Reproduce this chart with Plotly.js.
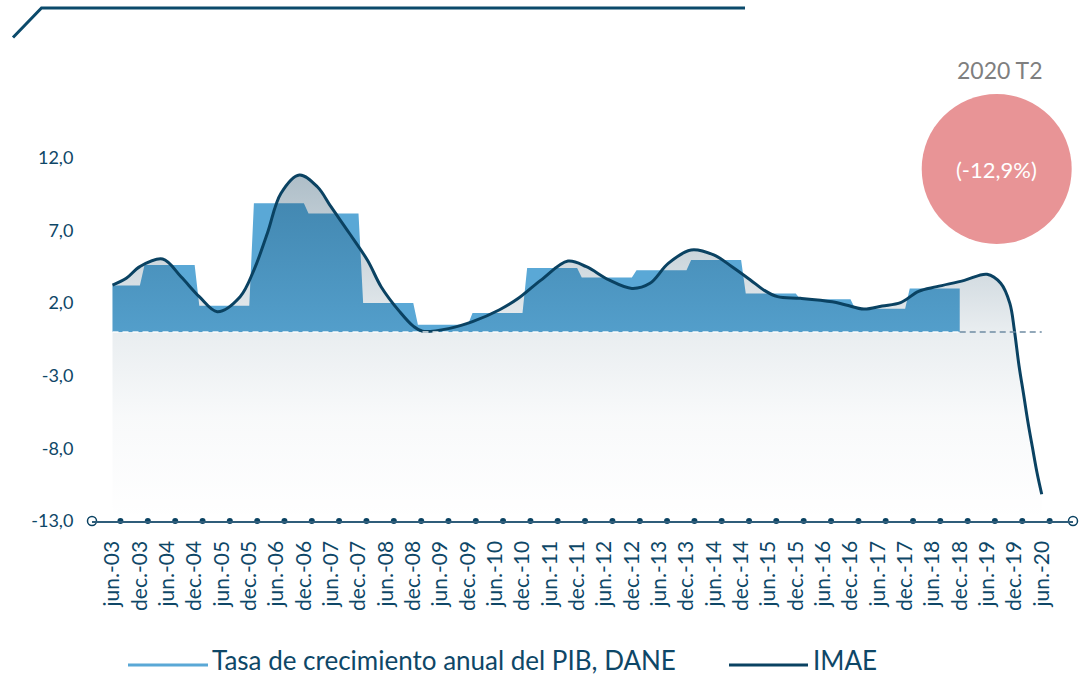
<!DOCTYPE html>
<html>
<head>
<meta charset="utf-8">
<script src="https://cdn.plot.ly/plotly-3.0.1.min.js"></script>
<style>html,body{margin:0;padding:0;background:#fff;}#chart{width:1088px;height:679px;}</style>
</head>
<body>
<div id="chart"></div>
<script>
// ---------- data ----------
const tickLabels = ['jun.-03','dec.-03','jun.-04','dec.-04','jun.-05','dec.-05','jun.-06','dec.-06','jun.-07','dec.-07',
  'jun.-08','dec.-08','jun.-09','dec.-09','jun.-10','dec.-10','jun.-11','dec.-11','jun.-12','dec.-12',
  'jun.-13','dec.-13','jun.-14','dec.-14','jun.-15','dec.-15','jun.-16','dec.-16','jun.-17','dec.-17',
  'jun.-18','dec.-18','jun.-19','dec.-19','jun.-20'];

const gdpYears  = [2003,2004,2005,2006,2007,2008,2009,2010,2011,2012,2013,2014,2015,2016,2017,2018];
const gdpGrowth = [3.2, 4.6, 1.8, 8.85, 8.15, 2.0, 0.5, 1.3, 4.4, 3.75, 4.25, 4.95, 2.65, 2.25, 1.6, 3.0];

const imaeDates = ['2003-06','2003-09','2003-12','2004-05','2004-09','2005-01','2005-05','2005-10',
  '2006-01','2006-04','2006-07','2006-11','2007-03','2007-06','2007-10','2008-02','2008-05','2008-09',
  '2008-12','2009-02','2009-08','2010-01','2010-07','2010-11','2011-04','2011-10','2012-02','2012-07',
  '2012-12','2013-04','2013-08','2014-01','2014-06','2014-10','2015-02','2015-05','2015-08','2016-01',
  '2016-08','2016-11','2017-03','2017-07','2017-11','2018-03','2018-07','2019-01','2019-06','2019-09',
  '2019-11','2019-12','2020-01','2020-02','2020-03','2020-04','2020-05','2020-06'];
const imaeValues = [3.23,3.69,4.5,5.02,3.8,2.43,1.4,2.43,
  4.26,6.79,9.54,10.8,9.99,8.6,6.79,4.9,3.1,1.4,
  0.4,0.05,0.25,0.71,1.53,2.3,3.55,4.88,4.49,3.58,
  3.0,3.35,4.72,5.64,5.3,4.49,3.58,2.89,2.43,2.32,
  2.08,1.86,1.58,1.79,2.02,2.8,3.12,3.55,3.97,3.35,
  1.97,0.14,-2.3,-4.3,-6.2,-8.0,-9.7,-11.16];

const yTicks = [12,7,2,-3,-8,-13];
const yRange = [-13,13];
const xRange = ['2003-01-15','2020-12-27'];

// ---------- helpers ----------
const W = 1088, H = 679, L = 92, R = 15, T = 143, B = 158;
const PW = W - L - R, PH = H - T - B;
const px = x => (x - L) / PW;
const py = y => (H - B - y) / PH;

const monthNum = {jun:'06', dec:'12'};
const tickDates = tickLabels.map(s => {
  const p = s.split('.-');
  return '20' + p[1] + '-' + monthNum[p[0]] + '-01';
});
const dotDates = tickDates.map(d => {
  const t = new Date(d + 'T00:00:00Z');
  t.setUTCDate(t.getUTCDate() + 53);
  return t.toISOString().slice(0,10);
});

// GDP annual rate as a step line (Jan..Dec of each year)
const gdpX = [], gdpY = [];
gdpYears.forEach((yr, i) => {
  gdpX.push(i === 0 ? imaeDates[0] + '-01' : yr + '-01-01');
  gdpY.push(gdpGrowth[i]);
  gdpX.push(yr + '-12-01');
  gdpY.push(gdpGrowth[i]);
});

const navy = '#0a4262';
const textCol = '#0e4767';
const lightBlue = '#5aa8d6';
const font = 'Lato, "Open Sans", sans-serif';

const traces = [
  { x: gdpX, y: gdpY, type: 'scatter', mode: 'lines', fill: 'tozeroy',
    fillcolor: lightBlue, line: {width: 0, color: lightBlue}, hoverinfo: 'skip',
    name: 'Tasa de crecimiento anual del PIB, DANE', showlegend: false },
  { x: [imaeDates[0], imaeDates[imaeDates.length-1]], y: [yRange[0], yRange[0]],
    type: 'scatter', mode: 'lines', line: {width: 0}, hoverinfo: 'skip', showlegend: false },
  { x: imaeDates, y: imaeValues, type: 'scatter', mode: 'lines', fill: 'tonexty',
    fillgradient: { type: 'vertical', start: yRange[0], stop: 11,
      colorscale: [[0,'rgba(12,60,90,0)'],[0.3,'rgba(12,60,90,0.03)'],[0.54,'rgba(12,60,90,0.09)'],[1,'rgba(12,60,90,0.34)']] },
    line: {color: navy, width: 3, shape: 'spline', smoothing: 1}, name: 'IMAE', showlegend: false },
  { x: dotDates, y: tickDates.map(() => yRange[0]), type: 'scatter', mode: 'markers',
    marker: {size: 6, color: navy}, cliponaxis: false, hoverinfo: 'skip', showlegend: false },
  { x: xRange, y: [yRange[0], yRange[0]], type: 'scatter', mode: 'markers',
    marker: {size: 9, color: '#fff', line: {color: navy, width: 1.5}}, cliponaxis: false,
    hoverinfo: 'skip', showlegend: false }
];

const gdpEnd = gdpX[gdpX.length-1];
const layout = {
  width: W, height: H,
  margin: {l: L, r: R, t: T, b: B},
  paper_bgcolor: '#fff', plot_bgcolor: '#fff',
  showlegend: false,
  font: {family: font, color: textCol},
  xaxis: {
    type: 'date', range: xRange, tickmode: 'array', tickvals: tickDates, ticktext: tickLabels,
    tickangle: -90, tickfont: {size: 21, color: textCol, family: font},
    ticks: 'outside', ticklen: 10, tickcolor: 'rgba(0,0,0,0)',
    showline: true, linecolor: '#2f5d7a', linewidth: 1.5, showgrid: false, zeroline: false,
    fixedrange: true
  },
  yaxis: {
    range: yRange, tickmode: 'array', tickvals: yTicks,
    ticktext: yTicks.map(v => v.toFixed(1).replace('.', ',')),
    tickfont: {size: 18, color: textCol, family: font},
    ticks: 'outside', ticklen: 14, tickcolor: 'rgba(0,0,0,0)',
    showline: false, showgrid: false, zeroline: false, fixedrange: true
  },
  shapes: [
    {type: 'line', xref: 'x', yref: 'y', x0: gdpX[0], x1: gdpEnd, y0: 0, y1: 0,
     line: {color: 'rgba(255,255,255,0.9)', width: 1.5, dash: '6px,4px'}, layer: 'above'},
    {type: 'line', xref: 'x', yref: 'y', x0: gdpEnd, x1: imaeDates[imaeDates.length-1], y0: 0, y1: 0,
     line: {color: '#6f8ca3', width: 1.5, dash: '6px,4px'}, layer: 'above'},
    {type: 'path', xref: 'paper', yref: 'paper',
     path: `M ${px(13)},${py(37.5)} L ${px(41.5)},${py(8)} L ${px(745)},${py(8)}`,
     line: {color: '#0b4a6b', width: 3}},
    {type: 'circle', xref: 'paper', yref: 'paper',
     x0: px(921.7), x1: px(1071.7), y0: py(244), y1: py(94),
     fillcolor: '#e89496', line: {width: 0}},
    {type: 'line', xref: 'paper', yref: 'paper', x0: px(128), x1: px(208), y0: py(665), y1: py(665),
     line: {color: lightBlue, width: 3}},
    {type: 'line', xref: 'paper', yref: 'paper', x0: px(729), x1: px(808), y0: py(665), y1: py(665),
     line: {color: navy, width: 3}}
  ],
  annotations: [
    {xref: 'paper', yref: 'paper', x: px(999), y: py(70), text: '2020 T2', showarrow: false,
     xanchor: 'center', yanchor: 'middle', font: {size: 23, color: '#7f7f7f', family: font}},
    {xref: 'paper', yref: 'paper', x: px(996), y: py(169), text: '(-12,9%)', showarrow: false,
     xanchor: 'center', yanchor: 'middle', font: {size: 22, color: '#ffffff', family: font}},
    {xref: 'paper', yref: 'paper', x: px(210), y: py(660), text: 'Tasa de crecimiento anual del PIB, DANE',
     showarrow: false, xanchor: 'left', yanchor: 'middle', font: {size: 26, color: textCol, family: font}},
    {xref: 'paper', yref: 'paper', x: px(811), y: py(660), text: 'IMAE',
     showarrow: false, xanchor: 'left', yanchor: 'middle', font: {size: 26, color: textCol, family: font}}
  ]
};

Plotly.newPlot('chart', traces, layout, {displayModeBar: false, staticPlot: true});
</script>
</body>
</html>
